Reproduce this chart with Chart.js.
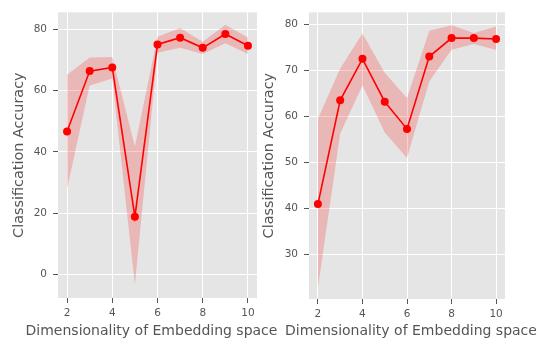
<!DOCTYPE html>
<html>
<head>
<meta charset="utf-8">
<script src="https://cdn.jsdelivr.net/npm/chart.js@4/dist/chart.umd.min.js"></script>
<style>
  html, body { margin: 0; padding: 0; background: #ffffff; }
  #wrap { position: relative; width: 542px; height: 345px; overflow: hidden; }
  canvas { position: absolute; top: 0; }
  #c1 { left: 0; }
  #c2 { left: 228px; }
</style>
</head>
<body>
<div id="wrap">
  <canvas id="c1" width="330" height="345"></canvas>
  <canvas id="c2" width="314" height="345"></canvas>
</div>
<script>
// Embedding dimensions (shared x values)
const dims = [2, 3, 4, 5, 6, 7, 8, 9, 10];
const xTicks = [2, 4, 6, 8, 10];

// Left panel: mean accuracy and spread band
const leftMean  = [46.7, 66.4, 67.6, 18.8, 75.1, 77.3, 74.0, 78.5, 74.7];
const leftUpper = [65.2, 70.8, 71.0, 41.8, 77.6, 80.5, 76.0, 81.5, 77.4];
const leftLower = [28.0, 61.7, 64.0, -3.4, 72.4, 74.0, 72.0, 75.5, 72.0];
const leftYTicks = [0, 20, 40, 60, 80];

// Right panel: mean accuracy and spread band
const rightMean  = [41.0, 63.5, 72.5, 63.2, 57.3, 73.0, 77.0, 77.0, 76.8];
const rightUpper = [59.5, 70.4, 78.0, 69.5, 64.0, 78.6, 79.8, 78.1, 79.5];
const rightLower = [22.8, 56.3, 66.7, 56.5, 51.0, 67.6, 74.5, 75.7, 74.4];
const rightYTicks = [30, 40, 50, 60, 70, 80];

const xTitle = 'Dimensionality of Embedding space';
const yTitle = 'Classification Accuracy';

const FONT = "'DejaVu Sans', sans-serif";
Chart.defaults.font.family = FONT;
Chart.defaults.color = '#555555';

// Grey panel behind the plotting area
const panelBg = {
  id: 'panelBg',
  beforeDraw(chart) {
    const { ctx, chartArea: a } = chart;
    ctx.save();
    ctx.fillStyle = '#E5E5E5';
    ctx.fillRect(a.left, a.top, a.right - a.left, a.bottom - a.top);
    ctx.restore();
  }
};

// x-axis title drawn at full width (not squeezed to the plot width)
const xTitlePlugin = {
  id: 'xTitlePlugin',
  afterDraw(chart, args, opts) {
    const { ctx } = chart;
    ctx.save();
    ctx.font = '14px ' + FONT;
    ctx.fillStyle = '#555555';
    ctx.textAlign = 'center';
    ctx.textBaseline = 'middle';
    ctx.fillText(xTitle, opts.cx, 331.5);
    ctx.restore();
  }
};

const pts = (ys) => dims.map((d, i) => ({ x: d, y: ys[i] }));

function makePanel(id, mean, upper, lower, yTicks, yMin, yMax, geom) {
  return new Chart(document.getElementById(id), {
    type: 'line',
    data: {
      datasets: [
        { data: pts(lower), borderWidth: 0, pointRadius: 0, fill: false, order: 2 },
        { data: pts(upper), borderWidth: 0, pointRadius: 0, fill: '-1',
          backgroundColor: 'rgba(255,0,0,0.2)', order: 2 },
        { data: pts(mean), borderColor: '#ff0000', borderWidth: 1.6,
          pointRadius: 4, pointBackgroundColor: '#ff0000', pointBorderColor: '#ff0000',
          pointBorderWidth: 0, fill: false, order: 1 }
      ]
    },
    options: {
      responsive: false,
      animation: false,
      events: [],
      layout: { padding: { left: 0, right: geom.padRight, top: 8, bottom: 0 } },
      plugins: {
        legend: { display: false },
        tooltip: { enabled: false },
        xTitlePlugin: { cx: geom.titleX }
      },
      scales: {
        x: {
          type: 'linear', min: 1.6, max: 10.4,
          afterBuildTicks: (s) => { s.ticks = xTicks.map(v => ({ value: v })); },
          afterFit: (s) => { s.height = geom.xAxisH; },
          grid: { color: '#ffffff', lineWidth: 1, tickColor: '#555555', tickLength: 5 },
          border: { display: false },
          ticks: { font: { size: 10.5 }, padding: 4, maxRotation: 0, color: '#555555' },
          title: { display: false }
        },
        y: {
          type: 'linear', min: yMin, max: yMax,
          afterBuildTicks: (s) => { s.ticks = yTicks.map(v => ({ value: v })); },
          afterFit: (s) => { s.width = geom.yAxisW; },
          grid: { color: '#ffffff', lineWidth: 1, tickColor: '#555555', tickLength: 5 },
          border: { display: false },
          ticks: { font: { size: 10.5 }, padding: 6, color: '#555555' },
          title: { display: true, text: yTitle, font: { size: 14.4 }, color: '#555555',
                   padding: { top: geom.yTitlePad, bottom: 0 } }
        }
      }
    },
    plugins: [panelBg, xTitlePlugin]
  });
}

makePanel('c1', leftMean, leftUpper, leftLower, leftYTicks, -7.7, 85.6,
  { padRight: 73, xAxisH: 47, yAxisW: 58, yTitlePad: 10.4, titleX: 151.5 });
makePanel('c2', rightMean, rightUpper, rightLower, rightYTicks, 20.4, 82.6,
  { padRight: 37, xAxisH: 46, yAxisW: 81, yTitlePad: 32.4, titleX: 183 });
</script>
</body>
</html>
